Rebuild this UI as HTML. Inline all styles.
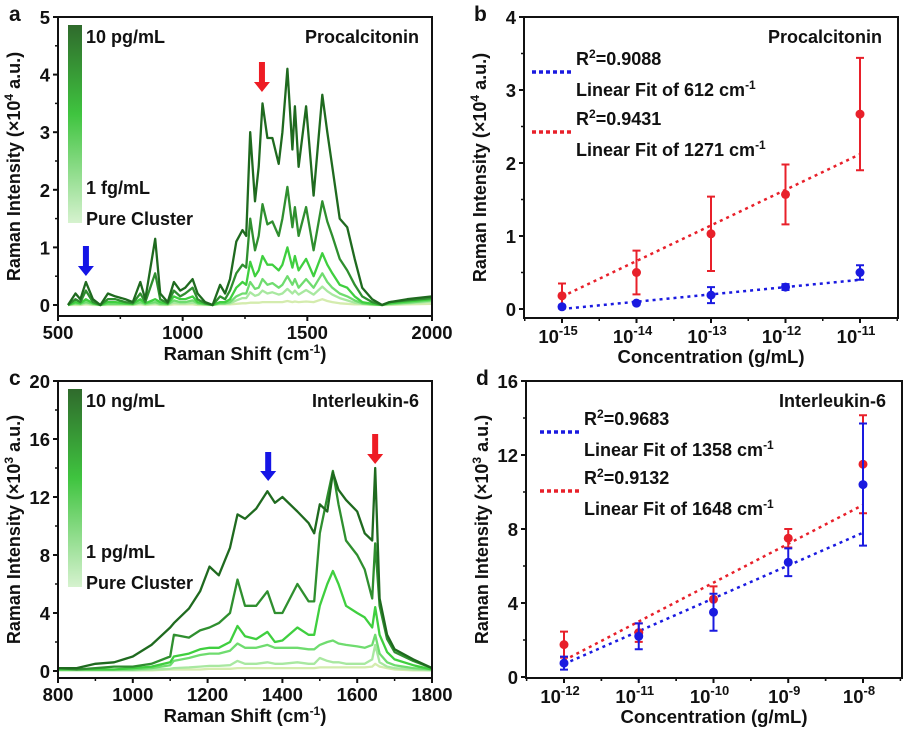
<!DOCTYPE html>
<html><head><meta charset="utf-8"><style>
html,body{margin:0;padding:0;background:#fff;}
svg text{font-family:"Liberation Sans",Arial,sans-serif;font-weight:bold;fill:#111;}
</style></head><body>
<svg id="fig" width="913" height="731" viewBox="0 0 913 731" xmlns="http://www.w3.org/2000/svg">
<defs>
<linearGradient id="cbar" x1="0" y1="0" x2="0" y2="1">
<stop offset="0" stop-color="#2f6a2c"/><stop offset="0.45" stop-color="#3fc43f"/><stop offset="1" stop-color="#d6f2cf"/>
</linearGradient>
</defs>
</svg>
<script>
// ---------- Panel a data ----------
const aShift=[540,570,590,612,640,670,700,730,770,800,830,850,890,910,940,965,990,1010,1040,1060,1090,1120,1150,1170,1190,1215,1240,1255,1271,1290,1305,1320,1340,1360,1385,1400,1420,1440,1450,1465,1495,1525,1560,1580,1600,1630,1660,1690,1720,1760,1800,1830,1900,2000];
const aS1=[0,0.2,0.1,0.4,0.1,0,0.2,0.15,0.1,0.05,0.4,0.1,1.15,0.2,0.05,0.4,0.25,0.3,0.45,0.2,0.05,0,0.35,0.2,0.45,1.1,1.3,1.2,3.0,1.8,2.4,3.5,2.9,2.9,2.45,3.0,4.1,2.7,3.45,2.4,3.45,1.9,3.65,3.0,2.4,1.5,1.35,0.8,0.3,0.1,0,0.05,0.1,0.15];
const aS2=[0,0.1,0.05,0.25,0.05,0,0.1,0.1,0.05,0.03,0.2,0.05,0.55,0.1,0.03,0.25,0.15,0.2,0.3,0.1,0.03,0,0.15,0.1,0.25,0.55,0.7,0.65,1.5,0.95,1.2,1.75,1.4,1.45,1.2,1.5,2.05,1.35,1.7,1.2,1.7,0.95,1.8,1.45,1.2,0.8,0.6,0.35,0.15,0.05,0,0.05,0.08,0.12];
const aS3=[0,0.05,0.03,0.1,0.03,0,0.05,0.05,0.03,0.02,0.1,0.03,0.1,0.05,0.02,0.15,0.1,0.1,0.15,0.05,0.02,0,0.05,0.05,0.1,0.3,0.4,0.35,0.75,0.5,0.6,0.85,0.7,0.7,0.6,0.7,1.0,0.65,0.85,0.6,0.8,0.5,0.9,0.7,0.55,0.35,0.3,0.15,0.05,0.02,0,0.03,0.06,0.1];
const aS4=[0,0.03,0.02,0.05,0.02,0,0.02,0.02,0.02,0.01,0.05,0.02,0.05,0.02,0.01,0.08,0.05,0.05,0.08,0.03,0.01,0,0.03,0.03,0.05,0.15,0.2,0.2,0.4,0.28,0.3,0.45,0.35,0.38,0.3,0.35,0.5,0.35,0.45,0.3,0.45,0.3,0.55,0.4,0.3,0.2,0.15,0.08,0.03,0.01,0,0.02,0.04,0.08];
const aS5=[0,0.02,0.01,0.03,0.01,0,0.01,0.01,0.01,0.01,0.03,0.01,0.03,0.01,0.01,0.04,0.03,0.03,0.04,0.02,0.01,0,0.02,0.02,0.03,0.08,0.12,0.12,0.22,0.16,0.18,0.25,0.2,0.22,0.18,0.2,0.28,0.2,0.25,0.18,0.26,0.18,0.32,0.24,0.18,0.12,0.08,0.04,0.02,0.01,0,0.01,0.03,0.06];
const aS6=[0,0,0,0.01,0,0,0,0,0,0,0.01,0,0.01,0,0,0.01,0.01,0.01,0.01,0,0,0,0.01,0.01,0.01,0.02,0.03,0.03,0.04,0.04,0.04,0.05,0.05,0.05,0.05,0.05,0.07,0.05,0.06,0.05,0.06,0.05,0.1,0.07,0.05,0.03,0.02,0.01,0.01,0,0,0,0.01,0.02];
const aTicksY=[0,1,2,3,4,5];
const aTicksX=[500,1000,1500,2000];
// ---------- Panel b data ----------
const bCats=["-15","-14","-13","-12","-11"];
const bBlue=[0.03,0.08,0.19,0.3,0.5];
const bBlueErr=[0.02,0.02,0.11,0.04,0.1];
const bRed=[0.18,0.5,1.03,1.57,2.67];
const bRedErr=[0.17,0.3,0.51,0.41,0.77];
const bFitBlue=[0.0,0.4];
const bFitRed=[0.17,2.12];
const bTicksY=[0,1,2,3,4];
// ---------- Panel c data ----------
const cShift=[800,850,900,950,1000,1050,1100,1110,1150,1180,1205,1230,1260,1280,1300,1330,1360,1380,1400,1440,1470,1485,1500,1520,1535,1550,1570,1600,1620,1640,1648,1660,1680,1700,1750,1800];
const cS1=[0.2,0.2,0.5,0.6,1.0,1.8,3.0,3.3,4.3,5.5,7.2,6.6,8.5,10.8,10.5,11.2,12.4,11.6,12.0,11.0,10.2,9.5,11.5,11.0,13.7,12.5,11.8,11.0,9.5,9.0,14.0,5.0,2.5,1.5,0.8,0.2];
const cS2=[0.2,0.1,0.2,0.3,0.3,0.5,1.0,2.5,2.3,2.8,3.0,3.3,4.0,6.3,4.5,4.5,5.5,4.0,4.0,6.0,4.8,4.8,9.5,12.0,13.8,11.5,9.0,8.0,7.0,5.0,8.8,4.5,2.2,1.3,0.7,0.2];
const cS3=[0.1,0.1,0.1,0.1,0.2,0.3,0.6,1.0,1.2,1.5,1.6,1.6,2.0,3.1,2.4,2.2,2.7,2.0,2.1,3.0,2.5,2.5,4.5,6.0,6.9,6.0,4.5,4.0,3.7,3.0,4.4,2.5,1.3,0.8,0.4,0.1];
const cS4=[0.1,0.1,0.1,0.1,0.1,0.2,0.4,0.7,0.9,1.1,1.2,1.2,1.4,1.9,1.6,1.6,1.8,1.6,1.6,1.6,1.5,1.5,1.8,2.0,2.1,1.9,1.8,1.7,1.6,1.8,2.5,1.2,0.6,0.4,0.2,0.1];
const cS5=[0.05,0.05,0.05,0.05,0.05,0.1,0.15,0.2,0.25,0.3,0.35,0.35,0.4,0.7,0.5,0.5,0.6,0.5,0.5,0.6,0.5,0.5,0.9,0.7,0.6,0.6,0.5,0.5,0.5,0.8,1.8,0.6,0.3,0.2,0.1,0.05];
const cS6=[0.05,0.05,0.05,0.05,0.05,0.05,0.1,0.1,0.1,0.1,0.15,0.15,0.15,0.2,0.2,0.2,0.2,0.2,0.2,0.2,0.2,0.2,0.25,0.25,0.25,0.25,0.25,0.25,0.25,0.3,0.5,0.3,0.2,0.1,0.05,0.05];
const cTicksY=[0,4,8,12,16,20];
const cTicksX=[800,1000,1200,1400,1600,1800];
// ---------- Panel d data ----------
const dCats=["-12","-11","-10","-9","-8"];
const dBlue=[0.75,2.2,3.5,6.2,10.4];
const dBlueErr=[0.35,0.7,1.0,0.75,3.3];
const dRed=[1.75,2.4,4.2,7.5,11.5];
const dRedErr=[0.7,0.5,0.7,0.5,2.65];
const dFitBlue=[0.7,7.8];
const dFitRed=[0.9,9.3];
const dTicksY=[0,4,8,12,16];

const svg=document.getElementById('fig');
const NS='http://www.w3.org/2000/svg';
function el(tag,attrs,parent){const e=document.createElementNS(NS,tag);for(const k in attrs)e.setAttribute(k,attrs[k]);(parent||svg).appendChild(e);return e;}
function txt(x,y,s,size,anchor,parent){const t=el('text',{x:x,y:y,'font-size':size,'text-anchor':anchor||'start'},parent);t.textContent=s;return t;}
function lin(d0,d1,r0,r1){return v=>r0+(v-d0)/(d1-d0)*(r1-r0);}

function frame(g,L,R,T,B){
  const f=el('rect',{x:L,y:T,width:R-L,height:B-T,fill:'none',stroke:'#111','stroke-width':2},g);
  
  
}
function yAxis(g,L,ticks,sy){
  const ax=el('g',{},g);
  
  
  ticks.forEach((v,i)=>{
    el('line',{x1:L-5,x2:L,y1:sy(v),y2:sy(v),stroke:'#111','stroke-width':2},ax);
    const t=txt(L-8,sy(v)+7,String(v),18.5,'end',ax);
    
    
    if(i<ticks.length-1){const m=(v+ticks[i+1])/2;el('line',{x1:L-3,x2:L,y1:sy(m),y2:sy(m),stroke:'#111','stroke-width':1.5},ax);}
  });
}
function xAxisNum(g,B,ticks,sx,ly){
  const ax=el('g',{},g);
  
  
  ticks.forEach((v,i)=>{
    el('line',{x1:sx(v),x2:sx(v),y1:B,y2:B+5,stroke:'#111','stroke-width':2},ax);
    const t=txt(sx(v),ly,String(v),18.5,'middle',ax);
    
    
    if(i<ticks.length-1){const m=(v+ticks[i+1])/2;el('line',{x1:sx(m),x2:sx(m),y1:B,y2:B+3,stroke:'#111','stroke-width':1.5},ax);}
  });
}
function xAxisCat(g,B,cats,sx,ly){
  const ax=el('g',{},g);
  
  
  cats.forEach((c,i)=>{
    el('line',{x1:sx(i),x2:sx(i),y1:B,y2:B+5,stroke:'#111','stroke-width':2},ax);
    const t=el('text',{x:sx(i)-4,y:ly,'font-size':18.5,'text-anchor':'middle'},ax);
    
    
    t.innerHTML='10<tspan dy="-8" font-size="13">'+c+'</tspan>';
    el('line',{x1:sx(i+0.5),x2:sx(i+0.5),y1:B,y2:B+3,stroke:'#111','stroke-width':1.5},ax);
    el('line',{x1:sx(i-0.5),x2:sx(i-0.5),y1:B,y2:B+3,stroke:'#111','stroke-width':1.5},ax);
  });
}
function yTitle(g,x,y,sup){
  const t=el('text',{x:0,y:0,'font-size':18,'text-anchor':'middle',transform:`translate(${x},${y}) rotate(-90)`},g);
  
  
  t.innerHTML='Raman Intensity (×10<tspan dy="-7" font-size="12">'+sup+'</tspan><tspan dy="7"> a.u.)</tspan>';
}
function xTitleShift(g,x,y){
  const t=el('text',{x:x,y:y,'font-size':18.5,'text-anchor':'middle'},g);
  
  
  t.innerHTML='Raman Shift (cm<tspan dy="-7" font-size="12">-1</tspan><tspan dy="7">)</tspan>';
}
function xTitleConc(g,x,y){
  const t=txt(x,y,'Concentration (g/mL)',18.5,'middle',g);
  
  
}
function arrow(g,x,y1,y2,color,name){
  const a=el('path',{d:`M${x-3},${y1} L${x+3},${y1} L${x+3},${y2-10} L${x+8},${y2-10} L${x},${y2} L${x-8},${y2-10} L${x-3},${y2-10} Z`,fill:color},g);
  
  
}
const greens=['#1f6a1f','#2f8f2f','#3fcf3f','#6fdc6f','#a8e8a0','#d4ecae'];

function spectraPanel(o){
  const g=el('g',{});
  
  
  const sx=lin(o.x0,o.x1,o.L,o.R), sy=lin(0,o.ymax,o.y0px,o.T);
  const series=o.series;
  for(let k=series.length-1;k>=0;k--){
    const d=o.xs.map((x,i)=>(i?'L':'M')+sx(x).toFixed(1)+','+sy(series[k][i]).toFixed(1)).join(' ');
    const p=el('path',{d:d,fill:'none',stroke:greens[k],'stroke-width':2.3,'stroke-linejoin':'round'},g);
    
    
  }
  frame(g,o.L,o.R,o.T,o.B);
  yAxis(g,o.L,o.ticksY,sy);
  xAxisNum(g,o.B,o.ticksX,sx,o.B+23);
  yTitle(g,o.L-38,(o.T+o.B)/2,o.sup);
  xTitleShift(g,(o.L+o.R)/2,o.B+44);
  const cb=el('rect',{x:o.L+10,y:o.T+8,width:14,height:198,fill:'url(#cbar)'},g);
  
  
  let t=txt(o.L+28,o.T+26,o.hi,18,'start',g);
  t=txt(o.L+28,o.T+177,o.lo,18,'start',g);
  t=txt(o.L+28,o.T+208,'Pure Cluster',18,'start',g);
  t=txt(o.R-13,o.T+26,o.title,18,'end',g);
  t=txt(o.L-49,o.T+4,o.letter,21,'start',g);
  o.arrows.forEach(a=>arrow(g,sx(a[0]),a[1],a[2],a[3],a[4]));
}

function fitPanel(o){
  const g=el('g',{});
  
  
  const sx=lin(0,4,o.c0,o.c4), sy=lin(0,o.ymax,o.y0px,o.T);
  frame(g,o.L,o.R,o.T,o.B);
  yAxis(g,o.L,o.ticksY,sy);
  xAxisCat(g,o.B,o.cats,sx,o.B+25);
  yTitle(g,o.L-38,(o.T+o.B)/2,o.sup);
  xTitleConc(g,(o.L+o.R)/2,o.B+45);
  [[o.fitRed,'#e8202a','red'],[o.fitBlue,'#1a1ae0','blue']].forEach(f=>{
    const l=el('line',{x1:sx(0),y1:sy(f[0][0]),x2:sx(4),y2:sy(f[0][1]),stroke:f[1],'stroke-width':2.5,'stroke-dasharray':'3,4'},g);
    
    
  });
  [[o.red,o.redErr,'#e8202a','red'],[o.blue,o.blueErr,'#1a1ae0','blue']].forEach(s=>{
    s[0].forEach((v,i)=>{
      const x=sx(i);
      const eb=el('path',{d:`M${x},${sy(v+s[1][i])} L${x},${sy(v-s[1][i])} M${x-4},${sy(v+s[1][i])} L${x+4},${sy(v+s[1][i])} M${x-4},${sy(v-s[1][i])} L${x+4},${sy(v-s[1][i])}`,stroke:s[2],'stroke-width':2,fill:'none'},g);
      
      
      const c=el('circle',{cx:x,cy:sy(v),r:4.5,fill:s[2]},g);
      
      
    });
  });
  const lg=el('g',{},g);
  
  
  o.legend.forEach(e=>{
    el('line',{x1:o.lgx,x2:o.lgx+41,y1:e.y,y2:e.y,stroke:e.c,'stroke-width':3.5,'stroke-dasharray':'4,3'},lg);
    let t=el('text',{x:o.lgx+44,y:e.y-7,'font-size':18},lg);
    
    t.innerHTML='R<tspan dy="-7" font-size="12">2</tspan><tspan dy="7">='+e.r2+'</tspan>';
    t=el('text',{x:o.lgx+44,y:e.y+24,'font-size':18},lg);
    
    t.innerHTML='Linear Fit  of '+e.wn+' cm<tspan dy="-7" font-size="12">-1</tspan>';
  });
  let t=txt(o.R-16,o.T+26,o.title,18,'end',g);
  t=txt(o.L-50,o.T+4,o.letter,21,'start',g);
}

spectraPanel({name:'panel-a',letter:'a',L:58,R:432,T:17,B:316,x0:500,x1:2000,y0px:305,ymax:5,xs:aShift,series:[aS1,aS2,aS3,aS4,aS5,aS6],
  ticksY:aTicksY,ticksX:aTicksX,sup:'4',hi:'10 pg/mL',lo:'1 fg/mL',title:'Procalcitonin',
  arrows:[[612,246,276,'#1515e6','blue-arrow'],[1318,62,92,'#ee1c24','red-arrow']]});
spectraPanel({name:'panel-c',letter:'c',L:58,R:432,T:381,B:678,x0:800,x1:1800,y0px:671,ymax:20,xs:cShift,series:[cS1,cS2,cS3,cS4,cS5,cS6],
  ticksY:cTicksY,ticksX:cTicksX,sup:'3',hi:'10 ng/mL',lo:'1 pg/mL',title:'Interleukin-6',
  arrows:[[1362,452,481,'#1515e6','blue-arrow'],[1648,434,464,'#ee1c24','red-arrow']]});
fitPanel({name:'panel-b',letter:'b',L:524,R:898,T:17,B:318,c0:562,c4:860,y0px:309,ymax:4,cats:bCats,ticksY:bTicksY,sup:'4',
  blue:bBlue,blueErr:bBlueErr,red:bRed,redErr:bRedErr,fitBlue:bFitBlue,fitRed:bFitRed,title:'Procalcitonin',lgx:532,
  legend:[{y:72,c:'#1a1ae0',r2:'0.9088',wn:'612'},{y:132,c:'#e8202a',r2:'0.9431',wn:'1271'}]});
fitPanel({name:'panel-d',letter:'d',L:526,R:902,T:381,B:678,c0:564,c4:863,y0px:677,ymax:16,cats:dCats,ticksY:dTicksY,sup:'3',
  blue:dBlue,blueErr:dBlueErr,red:dRed,redErr:dRedErr,fitBlue:dFitBlue,fitRed:dFitRed,title:'Interleukin-6',lgx:540,
  legend:[{y:432,c:'#1a1ae0',r2:'0.9683',wn:'1358'},{y:491,c:'#e8202a',r2:'0.9132',wn:'1648'}]});
</script>
</body></html>
